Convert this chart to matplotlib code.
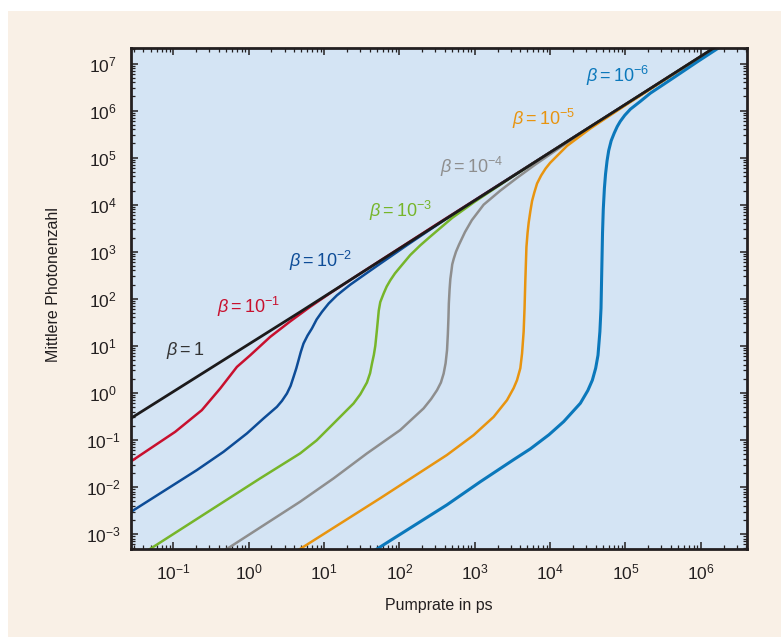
import numpy as np
import matplotlib
matplotlib.use("Agg")
import matplotlib.pyplot as plt
from matplotlib import font_manager
from matplotlib.patches import Rectangle
from matplotlib.ticker import LogLocator, FixedLocator, NullFormatter, LogFormatterMathtext

# ---------------- data ----------------
beta_labels = [r"$\beta = 1$", r"$\beta = 10^{-1}$", r"$\beta = 10^{-2}$",
               r"$\beta = 10^{-3}$", r"$\beta = 10^{-4}$", r"$\beta = 10^{-5}$",
               r"$\beta = 10^{-6}$"]

p_b0 = [0.0274, 4.8, 2.0e6]
n_b0 = [0.29, 52.5, 2.9e7]

p_b1 = [0.0269, 0.1054, 0.238, 0.417, 0.695, 1.045, 1.923, 3.548, 6.53, 12.02, 31.6, 316, 2.0e6]
n_b1 = [0.0344, 0.1486, 0.4295, 1.239, 3.565, 6.31, 15.5, 33.1, 67.6, 131.8, 363, 3890, 2.86e7]

p_b2 = [0.02742, 0.2046, 0.4613, 0.944, 1.567, 2.360, 2.754, 3.206, 3.589, 3.926, 4.266, 4.571,
        4.898, 5.321, 6.026, 6.887, 7.943, 9.333, 11.48, 14.79, 18.20, 22.23, 33.34, 55.59,
        125.9, 398.1, 3162, 2.0e6]
n_b2 = [0.002972, 0.02286, 0.05585, 0.1374, 0.2858, 0.5047, 0.6761, 0.9705, 1.413, 2.188, 3.311,
        4.943, 7.413, 11.19, 16.60, 23.44, 36.31, 52.48, 79.43, 118.6, 154.9, 199.5, 315.5, 558.5,
        1380, 4786, 40270, 2.86e7]

p_b3 = [0.03981, 1.416, 4.797, 7.943, 13.34, 24.55, 30.20, 36.98, 40.74, 43.15, 45.71, 47.75,
        50.12, 53.09, 55.59, 61.52, 67.61, 75.51, 87.10, 102.3, 118.9, 139.0, 188.8, 251.2,
        501.2, 1000, 3162, 2.0e6]
n_b3 = [0.000389, 0.01524, 0.05164, 0.09772, 0.2239, 0.5957, 0.9333, 1.660, 2.630, 4.207, 6.457,
        10.0, 21.38, 56.23, 85.11, 128.8, 182.0, 247.2, 346.7, 473.2, 631.0, 851.1, 1368, 2042,
        5248, 11590, 39630, 2.86e7]

p_b4 = [0.4169, 4.797, 13.34, 36.98, 102.3, 208.9, 263.0, 314.8, 354.8, 385.5, 409.3, 427.6,
        438.5, 446.7, 451.9, 462.4, 473.2, 489.8, 501.2, 524.8, 562.3, 616.6, 741.3, 912.0,
        1309, 2183, 3631, 6310, 15850, 100000, 2.0e6]
n_b4 = [0.000389, 0.004853, 0.01521, 0.05164, 0.1622, 0.4677, 0.7413, 1.140, 1.660, 2.570, 4.266,
        8.072, 17.78, 39.81, 79.43, 158.5, 263.0, 398.1, 537.0, 707.9, 1000, 1413, 2630, 4677,
        10000, 19950, 37150, 70790, 195000, 1.334e6, 2.86e7]

p_b5 = [3.890, 55.46, 153.8, 426.6, 963.8, 1778, 2673, 3273, 3631, 4018, 4236, 4446, 4571, 4677,
        4842, 5012, 5188, 5458, 5754, 6166, 6699, 7586, 8710, 10000, 16750, 34200, 94620,
        316200, 2.0e6]
n_b5 = [0.000389, 0.005754, 0.0166, 0.04786, 0.1265, 0.309, 0.6998, 1.259, 1.862, 3.342, 6.871,
        19.95, 63.1, 231.7, 1259, 2512, 4169, 7244, 12020, 18200, 28180, 41690, 58880, 77620,
        177800, 416900, 1.230e6, 4.315e6, 2.86e7]

p_b6 = [40.74, 426.6, 1180, 3273, 5458, 9638, 15140, 25180, 31620, 36310, 40180, 43150, 45710,
        47320, 48420, 49550, 50700, 52480, 54330, 56890, 59840, 64570, 70790, 77620, 85110,
        97720, 116100, 158500, 213800, 436500, 891300, 2.0e6]
n_b6 = [0.000389, 0.004169, 0.01288, 0.03802, 0.06457, 0.1288, 0.2455, 0.6026, 1.122, 1.862, 3.342,
        6.310, 19.95, 63.10, 398.1, 2512, 7943, 22390, 44670, 85110, 141300, 229100, 331100,
        457100, 588800, 794300, 1.072e6, 1.585e6, 2.344e6, 5.012e6, 1.081e7, 2.512e7]

label_p = [0.080, 0.38, 3.44, 39.8, 347, 3140, 30200]
label_n = [6.3, 49, 468, 5370, 46200, 483000, 4.14e6]

x_ticks = [1e-1, 1e0, 1e1, 1e2, 1e3, 1e4, 1e5, 1e6]
y_ticks = [1e-3, 1e-2, 1e-1, 1e0, 1e1, 1e2, 1e3, 1e4, 1e5, 1e6, 1e7]
x_limits = [0.0273, 4.1e6]
y_limits = [4.8e-4, 2.14e7]

# ---------------- style ----------------
names = {f.name for f in font_manager.fontManager.ttflist}
fam = "Liberation Sans Narrow" if "Liberation Sans Narrow" in names else "Liberation Sans"
plt.rcParams["font.family"] = [fam, "DejaVu Sans"]
plt.rcParams["mathtext.fontset"] = "custom"
plt.rcParams["mathtext.rm"] = fam
plt.rcParams["mathtext.it"] = fam + ":italic"
plt.rcParams["mathtext.bf"] = fam + ":bold"

colors = ["#1c1a1b", "#c8102e", "#0d4c97", "#76b52a", "#8e8e8e", "#e8940f", "#0b78bb"]
label_colors = ["#333333", "#c8102e", "#0d4c97", "#76b52a", "#8e8e8e", "#e8940f", "#0b78bb"]
cream = "#f9f0e6"
panel = "#d4e4f4"
ink = "#231f20"

W, H = 781, 637
fig = plt.figure(figsize=(W / 100, H / 100), dpi=100)
fig.patch.set_facecolor("white")
fig.add_artist(Rectangle((8 / W, 0), 1 - 8 / W, 1 - 11 / H, transform=fig.transFigure,
                         facecolor=cream, edgecolor="none", zorder=-5))

ax = fig.add_axes([131 / W, 1 - 549 / H, (747 - 131) / W, (549 - 48) / H])
ax.set_facecolor(panel)
ax.set_xscale("log")
ax.set_yscale("log")

series = [(p_b1, n_b1), (p_b2, n_b2), (p_b3, n_b3), (p_b4, n_b4), (p_b5, n_b5), (p_b6, n_b6)]
for i, (p, n) in enumerate(series, start=1):
    ax.plot(p, n, color=colors[i], lw=2.2 if i == 6 else 1.8, zorder=2,
            solid_capstyle="round", solid_joinstyle="round")
ax.plot(p_b0, n_b0, color=colors[0], lw=2.0, zorder=3)

for lab, lp, ln, c in zip(beta_labels, label_p, label_n, label_colors):
    ax.text(lp, ln, lab, color=c, fontsize=13, ha="left", va="baseline", zorder=4)

ax.set_xlim(*x_limits)
ax.set_ylim(*y_limits)

ax.xaxis.set_major_locator(FixedLocator(x_ticks))
ax.yaxis.set_major_locator(FixedLocator(y_ticks))
ax.xaxis.set_minor_locator(LogLocator(base=10, subs=np.arange(2, 10), numticks=100))
ax.yaxis.set_minor_locator(LogLocator(base=10, subs=np.arange(2, 10), numticks=100))
ax.xaxis.set_minor_formatter(NullFormatter())
ax.yaxis.set_minor_formatter(NullFormatter())
ax.xaxis.set_major_formatter(LogFormatterMathtext())
ax.yaxis.set_major_formatter(LogFormatterMathtext())

ax.tick_params(which="both", direction="in", top=True, right=True, colors=ink, labelcolor=ink)
ax.tick_params(which="major", length=5, width=1.1, labelsize=12.5)
ax.tick_params(which="minor", length=3, width=0.9)
ax.tick_params(axis="x", which="major", pad=10)
ax.tick_params(axis="y", which="major", pad=20)
for lbl in ax.get_yticklabels():
    lbl.set_horizontalalignment("center")

for s in ax.spines.values():
    s.set_linewidth(2.0)
    s.set_color(ink)

ax.set_xlabel("Pumprate in ps", fontsize=11.5, color=ink, labelpad=11)
ax.set_ylabel("Mittlere Photonenzahl", fontsize=11.5, color=ink)
ax.yaxis.set_label_coords(-0.114, 0.527)

fig.savefig("out.png", dpi=100, facecolor=fig.get_facecolor())
